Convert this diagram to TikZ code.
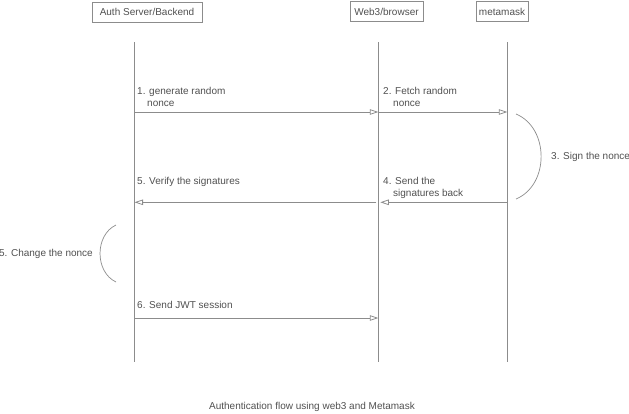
\documentclass[tikz,border=0pt]{standalone}
\usepackage{fontspec}
\setmainfont{Liberation Sans}
\usepackage{tikz}
\usetikzlibrary{arrows.meta,positioning}
\definecolor{seqline}{HTML}{8C8C8C}
\definecolor{seqtext}{HTML}{505050}

\begin{document}
\begin{tikzpicture}[
    x=1pt,
    y=-1pt,
    actor/.style={
        draw=seqline,
        line width=0.8pt,
        text=seqtext,
        minimum height=20pt,
        inner sep=0pt,
        font=\fontsize{10}{12}\selectfont
    },
    life/.style={
        draw=seqline,
        line width=0.9pt
    },
    msg/.style={
        -{Triangle[open,length=8.5pt,width=5.5pt]},
        draw=seqline,
        line width=0.8pt
    },
    note/.style={
        draw=seqline,
        line width=0.7pt
    },
    label/.style={
        inner sep=0pt,
        align=left,
        text=seqtext,
        font=\fontsize{10}{12}\selectfont
    }
]
\useasboundingbox (0,0) rectangle (629,413);

% Actors
\node[actor, minimum width=110pt] (auth) at (147,12) {Auth Server/Backend};
\node[actor, minimum width=73pt] (web) at (386.5,11.5) {Web3/browser};
\node[actor, minimum width=52pt] (meta) at (502,11.5) {metamask};

% Lifelines
\foreach \who/\x in {auth/134.5, web/378.3, meta/507.3} {
    \coordinate (\who-top) at (\x,42);
    \coordinate (\who-bot) at (\x,362);
    \draw[life] (\who-top) -- (\who-bot);
}

% Message heights
\coordinate (m1) at (0,112);
\coordinate (m4) at (0,202.3);
\coordinate (m6) at (0,318);

% Messages
\draw[msg] (auth-top |- m1) -- (web-top |- m1);
\draw[msg] (web-top |- m1) -- (meta-top |- m1);
\draw[msg] (meta-top |- m4) -- ([xshift=2pt]web-top |- m4);
\draw[msg] ([xshift=-2pt]web-top |- m4) -- (auth-top |- m4);
\draw[msg] (auth-top |- m6) -- (web-top |- m6);

% Message labels
\node[label, anchor=north west] (l1) at (137,87.5) {1. generate random\\\hspace*{10pt}nonce};
\node[label, anchor=north west] (l2) at (383,87.5) {2. Fetch random\\\hspace*{10pt}nonce};
\node[label, anchor=north west] (l4) at (383,177.4) {4. Send the\\\hspace*{10pt}signatures back};
\node[label, anchor=north west] (l5) at (137,177.4) {5. Verify the signatures};
\node[label, anchor=north west] (l6) at (137,301) {6. Send JWT session};

% Self notes
\coordinate (s3a) at (516,114);
\coordinate (s3b) at (516,199);
\draw[note] (s3a) .. controls (549.5,128) and (549.5,185) .. (s3b);
\node[label, anchor=west] (l3) at (551,156.5) {3. Sign the nonce};

\coordinate (s5a) at (116,225);
\coordinate (s5b) at (116,282);
\draw[note] (s5a) .. controls (94.7,235) and (94.7,272) .. (s5b);
\node[label, anchor=east] (l5b) at (93,253.5) {5. Change the nonce};

% Caption
\node[label] (caption) at (312,407) {Authentication flow using web3 and Metamask};

\end{tikzpicture}
\end{document}
